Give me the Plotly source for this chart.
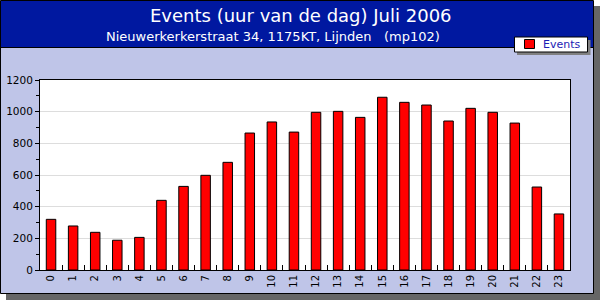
import plotly.graph_objects as go

hours = [str(h) for h in range(24)]
events = [320, 278, 238, 188, 206, 440, 528, 598, 680, 865, 935, 871,
          996, 1002, 964, 1091, 1059, 1042, 941, 1021, 996, 928, 524, 354]
y_ticks = [0, 200, 400, 600, 800, 1000, 1200]

title = "Events (uur van de dag) Juli 2006"
subtitle = "Nieuwerkerkerstraat 34, 1175KT, Lijnden\u00a0\u00a0\u00a0(mp102)"
legend_label = "Events"

W, H = 600, 300
ML, MR, MT, MB = 40, 30, 80, 30
PW, PH = W - ML - MR, H - MT - MB

def px(x):
    return (x - ML) / PW

def py(y):
    return (H - MB - y) / PH

FONT = "DejaVu Sans"
LAV = "#BFC5E8"
BLUE = "#0018A0"
SHADOW = "#666666"

fig = go.Figure()
fig.add_trace(go.Bar(
    x=hours, y=events, name=legend_label,
    marker=dict(color="#FF0000", line=dict(color="black", width=1)),
    showlegend=False,
))

def rect(x0, y0, x1, y1, fill, line_color=None, lw=0):
    return dict(type="rect", xref="paper", yref="paper", layer="below",
                x0=px(x0), x1=px(x1), y0=py(y0), y1=py(y1),
                fillcolor=fill,
                line=dict(color=line_color or fill, width=lw))

shapes = [
    rect(6, 6, 600, 300, SHADOW),
    rect(0.5, 0.5, 593.5, 293.5, LAV, "black", 1),
    rect(1, 1, 593, 47.5, BLUE),
    dict(type="line", xref="paper", yref="paper", layer="below",
         x0=px(0), x1=px(594), y0=py(47.5), y1=py(47.5),
         line=dict(color="black", width=1)),
    rect(0, 0, 0, 0, "white"),
]
shapes[-1].update(x0=0, x1=1, y0=0, y1=1)
# legend
shapes += [
    rect(517, 40, 590.5, 55, "#808080"),
    rect(514.5, 37, 587.5, 52, "white", "black", 1),
    rect(524.5, 39.5, 534.5, 48.5, "#FF0000", "black", 1),
]

annotations = [
    dict(text=title, xref="paper", yref="paper", x=px(300.5), y=py(15.5),
         xanchor="center", yanchor="middle", showarrow=False,
         font=dict(family=FONT, size=18, color="white")),
    dict(text=subtitle, xref="paper", yref="paper", x=px(273), y=py(37),
         xanchor="center", yanchor="middle", showarrow=False,
         font=dict(family=FONT, size=13, color="white")),
    dict(text=legend_label, xref="paper", yref="paper", x=px(541), y=py(44.5),
         xanchor="left", yanchor="middle", showarrow=False,
         font=dict(family=FONT, size=11, color="#1c1cb4")),
]

fig.update_layout(
    width=W, height=H,
    margin=dict(l=ML, r=MR, t=MT, b=MB, pad=0, autoexpand=False),
    paper_bgcolor="white",
    plot_bgcolor="rgba(0,0,0,0)",
    shapes=shapes,
    annotations=annotations,
    bargap=0.57,
    showlegend=False,
    font=dict(family=FONT, size=10, color="black"),
)
fig.update_xaxes(
    type="category", range=[-0.5, 23.5], automargin=False,
    showline=True, linecolor="black", linewidth=1, mirror=True,
    ticks="inside", tickson="boundaries", ticklen=5, tickcolor="black",
    tickangle=-90, tickfont=dict(family=FONT, size=10, color="black"),
    showgrid=False, zeroline=False,
)
fig.update_yaxes(
    range=[0, 1200], tickvals=y_ticks, automargin=False,
    showline=True, linecolor="black", linewidth=1, mirror=True,
    ticks="outside", ticklen=4, tickcolor="black",
    minor=dict(ticks="outside", ticklen=3, dtick=100, tickcolor="black", showgrid=False),
    tickfont=dict(family=FONT, size=10.5, color="black"),
    showgrid=True, gridcolor="#DDDDDD", gridwidth=1,
    zeroline=False,
)

fig.write_html("out.html")
